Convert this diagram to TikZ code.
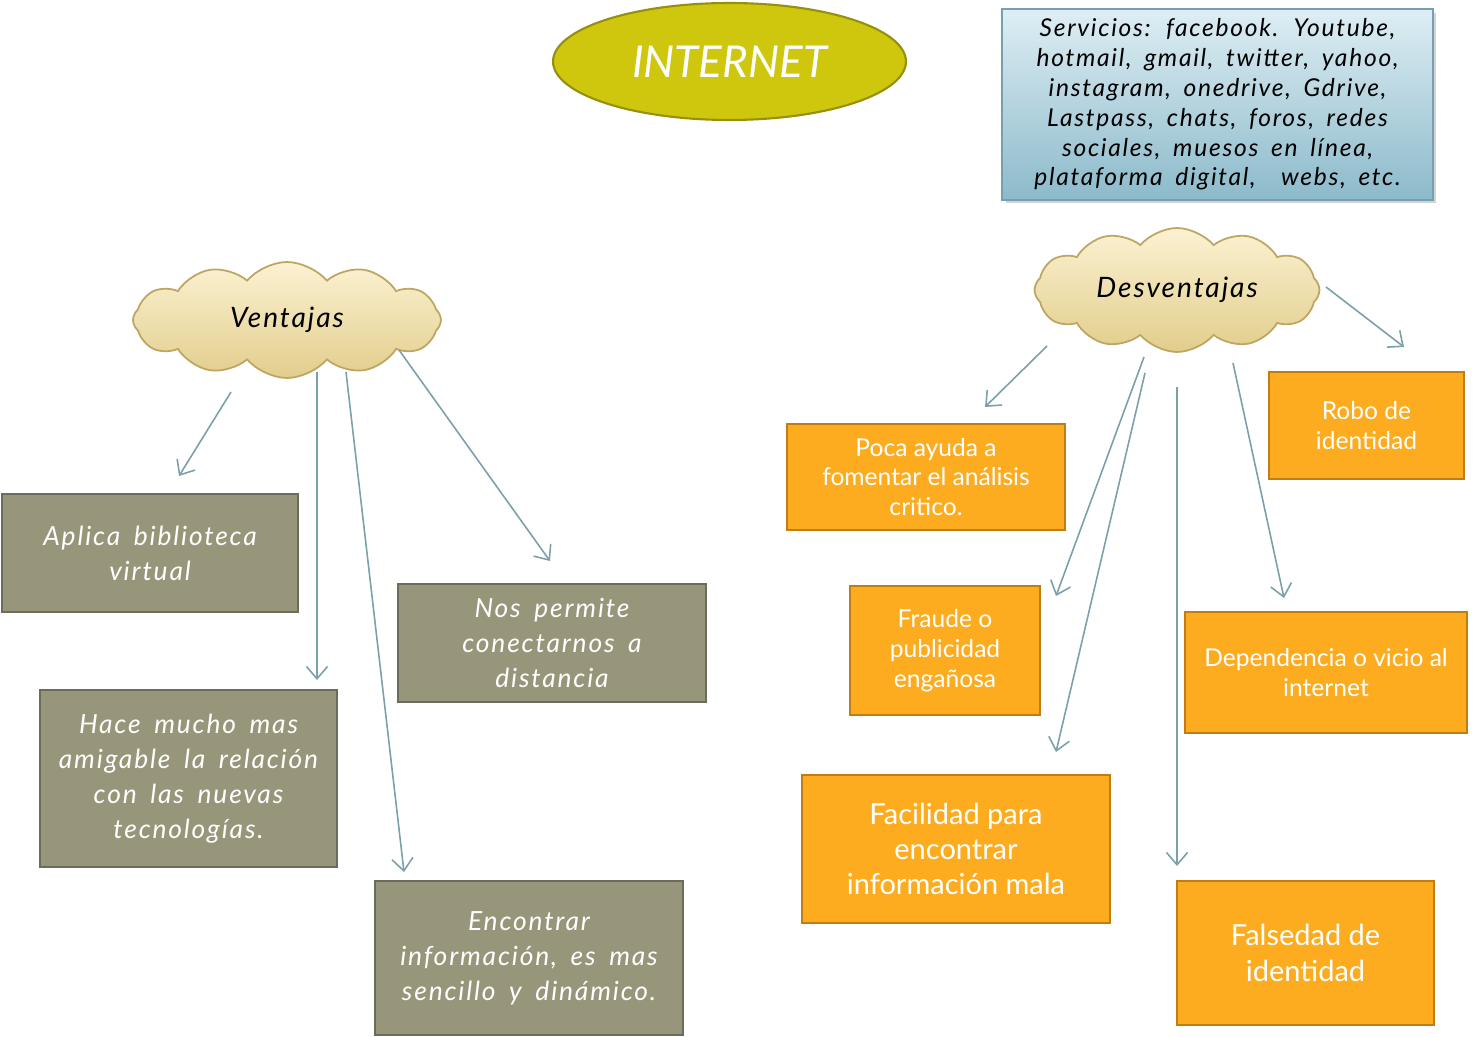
\documentclass[tikz,border=0pt]{standalone}
\usepackage{fontspec}
\setmainfont{Lato}
\newfontfamily\handfont[WordSpace=1.7, LetterSpace=7]{Lato}
\usepackage{xcolor}
\usepackage{tikz}
\usetikzlibrary{shapes.geometric}
\usetikzlibrary{shapes.symbols}
\usetikzlibrary{arrows.meta}
\usetikzlibrary{shadows}

\definecolor{netfill}{RGB}{207,198,14}
\definecolor{netline}{RGB}{150,144,12}
\definecolor{servtop}{RGB}{222,238,244}
\definecolor{servbot}{RGB}{140,186,202}
\definecolor{servline}{RGB}{118,160,176}
\definecolor{nubetop}{RGB}{251,242,210}
\definecolor{nubebot}{RGB}{226,205,140}
\definecolor{nubeline}{RGB}{188,166,98}
\definecolor{ventfill}{RGB}{152,150,122}
\definecolor{ventline}{RGB}{108,108,90}
\definecolor{desvfill}{RGB}{253,172,32}
\definecolor{desvline}{RGB}{192,125,20}
\definecolor{flechacol}{RGB}{122,160,170}

\tikzset{
    ventbox/.style={draw=ventline, fill=ventfill, line width=1.6pt, text=white,
        align=center, inner sep=0pt,
        font=\handfont\itshape\fontsize{15}{20}\selectfont},
    desvbox/.style={draw=desvline, fill=desvfill, line width=1.4pt, text=white,
        align=center, inner sep=0pt, font=\fontsize{14}{17}\selectfont},
    desvbig/.style={desvbox, font=\fontsize{16.5}{20}\selectfont},
    nube/.style={cloud, cloud puffs=12, cloud puff arc=100, cloud ignores aspect,
        draw=nubeline, line width=1pt, top color=nubetop, bottom color=nubebot,
        font=\handfont\itshape\fontsize{16}{20}\selectfont},
    flecha/.style={draw=flechacol, line width=0.9pt,
        -{Straight Barb[length=7pt, width=12pt]}}
}

\begin{document}
\begin{tikzpicture}[x=0.02cm, y=-0.02cm]
        \useasboundingbox (0, 0) rectangle (1474, 1037);

        \node[ellipse, draw=netline, fill=netfill, line width=1.2pt,
            minimum width=7.06cm, minimum height=2.34cm, text=white,
            font=\itshape\fontsize{25}{28}\selectfont] (internet) at (729.5, 61.5) {INTERNET};

        \node[draw=servline, line width=1pt, top color=servtop, bottom color=servbot,
            drop shadow={opacity=0.35, shadow xshift=2pt, shadow yshift=-2pt},
            minimum width=8.62cm, minimum height=3.82cm, inner sep=0pt, align=center,
            font=\handfont\itshape\fontsize{14}{17}\selectfont] (servicios) at (1217.5, 104.5)
            {Servicios: facebook. Youtube,\\ hotmail, gmail, twitter, yahoo,\\
             instagram, onedrive, Gdrive,\\ Lastpass, chats, foros, redes\\
             sociales, muesos en línea,\\ plataforma digital, \ webs, etc.};

        \node[nube, minimum width=6.16cm, minimum height=2.32cm] (vent) at (287, 320) {Ventajas};
        \node[nube, minimum width=5.7cm, minimum height=2.48cm] (desv) at (1177, 290) {Desventajas};

        \node[ventbox, minimum width=5.92cm, minimum height=2.36cm] (aplica) at (150, 553)
            {Aplica biblioteca\\ virtual};
        \node[ventbox, minimum width=6.16cm, minimum height=2.36cm] (permite) at (552, 643)
            {Nos permite\\ conectarnos a\\ distancia};
        \node[ventbox, minimum width=5.94cm, minimum height=3.54cm] (amigable) at (188.5, 778.5)
            {Hace mucho mas\\ amigable la relación\\ con las nuevas\\ tecnologías.};
        \node[ventbox, minimum width=6.16cm, minimum height=3.08cm] (encontrar) at (529, 958)
            {Encontrar\\ información, es mas\\ sencillo y dinámico.};

        \node[desvbox, minimum width=5.56cm, minimum height=2.12cm] (poca) at (926, 477)
            {Poca ayuda a\\ fomentar el análisis\\ critico.};
        \node[desvbox, minimum width=3.9cm, minimum height=2.14cm] (robo) at (1366.5, 425.5)
            {Robo de\\ identidad};
        \node[desvbox, minimum width=3.8cm, minimum height=2.58cm] (fraude) at (945, 650.5)
            {Fraude o\\ publicidad\\ engañosa};
        \node[desvbox, minimum width=5.64cm, minimum height=2.42cm] (vicio) at (1326, 672.5)
            {Dependencia o vicio al\\ internet};
        \node[desvbig, minimum width=6.16cm, minimum height=2.96cm] (facilidad) at (956, 849)
            {Facilidad para\\ encontrar\\ información mala};
        \node[desvbig, minimum width=5.14cm, minimum height=2.88cm] (falsedad) at (1305.5, 953)
            {Falsedad de\\ identidad};

        \coordinate (v1a) at (231, 392);  \coordinate (v1b) at (179, 476);
        \coordinate (v2a) at (317, 372);  \coordinate (v2b) at (317, 680);
        \coordinate (v3a) at (346, 372);  \coordinate (v3b) at (404, 872);
        \coordinate (v4a) at (399, 350);  \coordinate (v4b) at (550, 561);

        \coordinate (d1a) at (1047, 346); \coordinate (d1b) at (985, 407);
        \coordinate (d2a) at (1144, 357); \coordinate (d2b) at (1056, 596);
        \coordinate (d3a) at (1145, 373); \coordinate (d3b) at (1056, 752);
        \coordinate (d4a) at (1177, 387); \coordinate (d4b) at (1177, 866);
        \coordinate (d5a) at (1233, 363); \coordinate (d5b) at (1284, 598);
        \coordinate (d6a) at (1326, 287); \coordinate (d6b) at (1404, 347);

        \draw[flecha] (v1a) -- (v1b);
        \draw[flecha] (v2a) -- (v2b);
        \draw[flecha] (v3a) -- (v3b);
        \draw[flecha] (v4a) -- (v4b);

        \draw[flecha] (d1a) -- (d1b);
        \draw[flecha] (d2a) -- (d2b);
        \draw[flecha] (d3a) -- (d3b);
        \draw[flecha] (d4a) -- (d4b);
        \draw[flecha] (d5a) -- (d5b);
        \draw[flecha] (d6a) -- (d6b);
    \end{tikzpicture}
\end{document}
